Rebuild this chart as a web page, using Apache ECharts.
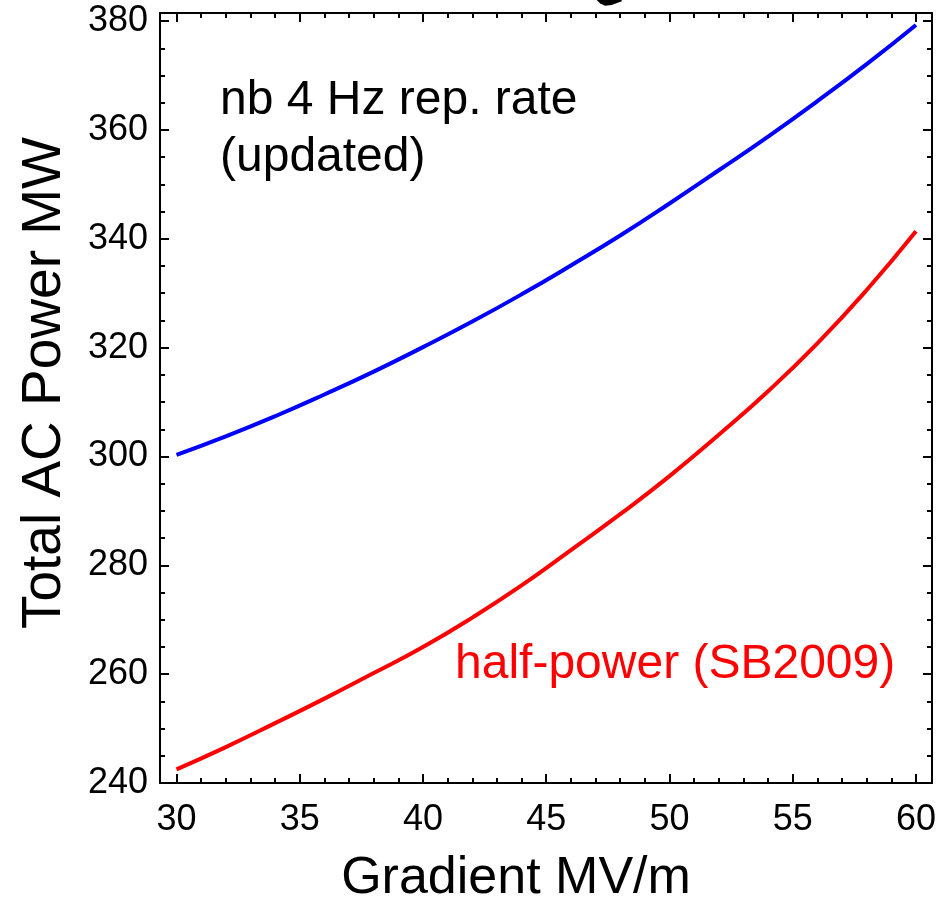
<!DOCTYPE html>
<html>
<head>
<meta charset="utf-8">
<script src="https://cdn.jsdelivr.net/npm/echarts@6/dist/echarts.min.js"></script>
<style>
html,body{margin:0;padding:0;background:#fff;}
#chart{width:939px;height:899px;}
</style>
</head>
<body>
<div id="chart"></div>
<script>
// Gradient (MV/m)
const gradient = [30, 32, 34, 36, 38, 40, 42, 44, 46, 48, 50, 52, 54, 56, 58, 60];
// nb 4 Hz rep. rate (updated) - Total AC Power (MW)
const powerUpdated = [300.3, 303.7, 307.4, 311.4, 315.6, 320.1, 324.8, 329.8, 335.1, 340.6, 346.5, 352.6, 358.8, 365.3, 372.1, 379.3];
// half-power (SB2009) - Total AC Power (MW)
const powerHalf = [242.5, 246.6, 251.0, 255.5, 260.2, 265.0, 270.4, 276.3, 282.8, 289.4, 296.4, 304.0, 312.0, 320.8, 330.6, 341.4];
const xTickLabels = [30, 35, 40, 45, 50, 55, 60];
const yTickLabels = [240, 260, 280, 300, 320, 340, 360, 380];

const FONT = '"Liberation Sans", Arial, Helvetica, sans-serif';
const chart = echarts.init(document.getElementById('chart'), null, {renderer: 'canvas'});

function pairs(xs, ys) { return xs.map((x, i) => [x, ys[i]]); }

function axisLine() { return {show: true, lineStyle: {color: '#000', width: 2}}; }
function majorTick() { return {show: true, inside: true, length: 9, lineStyle: {color: '#000', width: 2}}; }
function minorTick(n) { return {show: true, splitNumber: n, length: 5, lineStyle: {color: '#000', width: 2}}; }

const xMin = 29.33, xMax = 60.65, yMin = 240, yMax = 381.5;

const option = {
  animation: false,
  backgroundColor: '#fff',
  grid: {left: 160, right: 7, top: 13, bottom: 116, containLabel: false},
  xAxis: [
    {
      type: 'value', position: 'bottom', min: xMin, max: xMax, splitNumber: 5,
      axisLine: axisLine(), axisTick: majorTick(), minorTick: minorTick(5),
      splitLine: {show: false}, minorSplitLine: {show: false},
      axisLabel: {
        show: true, margin: 19, color: '#000', fontSize: 36, fontFamily: FONT,
        formatter: v => (xTickLabels.indexOf(Math.round(v * 1000) / 1000) >= 0 ? String(Math.round(v)) : '')
      }
    },
    {
      type: 'value', position: 'top', min: xMin, max: xMax, splitNumber: 5,
      axisLine: axisLine(), axisTick: majorTick(), minorTick: minorTick(5),
      splitLine: {show: false}, minorSplitLine: {show: false},
      axisLabel: {show: false}
    }
  ],
  yAxis: [
    {
      type: 'value', position: 'left', min: yMin, max: yMax, interval: 20,
      axisLine: axisLine(), axisTick: majorTick(), minorTick: minorTick(4),
      splitLine: {show: false}, minorSplitLine: {show: false},
      axisLabel: {
        show: true, margin: 12, color: '#000', fontSize: 36, fontFamily: FONT,
        formatter: v => (yTickLabels.indexOf(Math.round(v * 1000) / 1000) >= 0 ? String(Math.round(v)) : '')
      }
    },
    {
      type: 'value', position: 'right', min: yMin, max: yMax, interval: 20,
      axisLine: axisLine(), axisTick: majorTick(), minorTick: minorTick(4),
      splitLine: {show: false}, minorSplitLine: {show: false},
      axisLabel: {show: false}
    }
  ],
  series: [
    {
      name: 'nb 4 Hz rep. rate (updated)', type: 'line', smooth: true, symbol: 'none',
      xAxisIndex: 0, yAxisIndex: 0,
      lineStyle: {color: '#0000ff', width: 4},
      data: pairs(gradient, powerUpdated)
    },
    {
      name: 'half-power (SB2009)', type: 'line', smooth: true, symbol: 'none',
      xAxisIndex: 0, yAxisIndex: 0,
      lineStyle: {color: '#ff0000', width: 4},
      data: pairs(gradient, powerHalf)
    }
  ],
  graphic: [
    {type: 'text', left: 220, top: 72, style: {text: 'nb 4 Hz rep. rate\n(updated)', fill: '#000', font: '48px ' + FONT, lineHeight: 57}},
    {type: 'text', left: 455, top: 641, style: {text: 'half-power (SB2009)', fill: '#ff0000', font: '48px ' + FONT}},
    {type: 'text', x: 516, y: 879, style: {text: 'Gradient MV/m', fill: '#000', font: '52px ' + FONT, textAlign: 'center', textVerticalAlign: 'middle'}},
    {type: 'text', x: 45, y: 383, rotation: Math.PI / 2, style: {text: 'Total AC Power MW', fill: '#000', font: '55px ' + FONT, textAlign: 'center', textVerticalAlign: 'middle'}},
    {type: 'polygon', shape: {points: [[596.7, 0], [621.7, 0], [621.7, 1.2], [611.7, 5], [605, 5.8], [600, 3.3]]}, style: {fill: '#000'}}
  ]
};
chart.setOption(option);
</script>
</body>
</html>
